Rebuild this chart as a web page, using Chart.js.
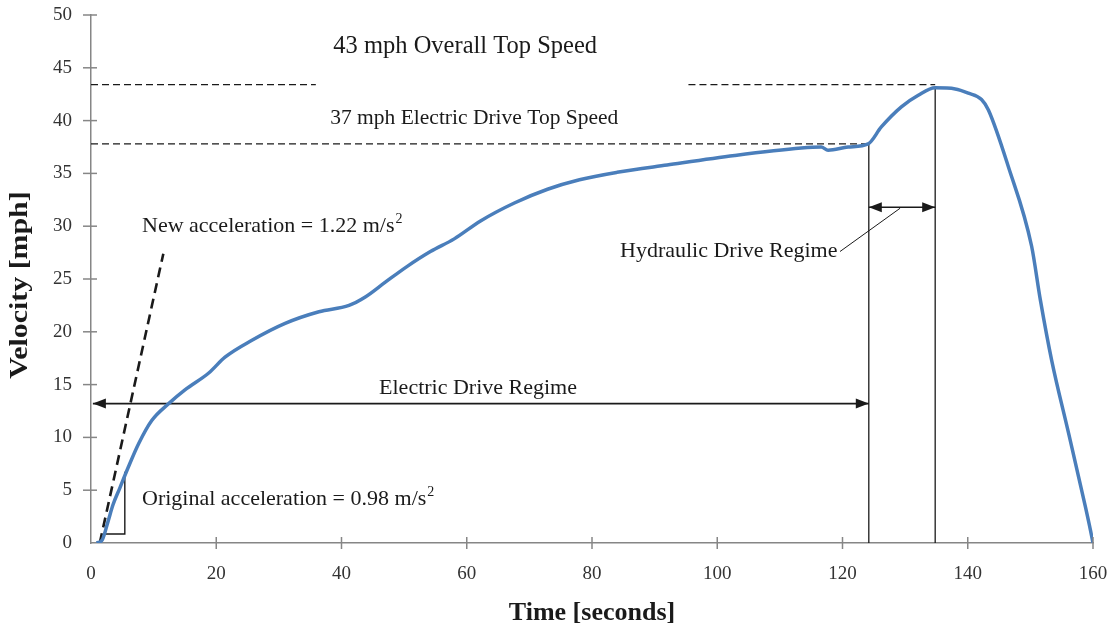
<!DOCTYPE html>
<html>
<head>
<meta charset="utf-8">
<script src="https://cdn.jsdelivr.net/npm/chart.js@4.4.1/dist/chart.umd.min.js"></script>
<style>
  html, body { margin: 0; padding: 0; background: #fff; }
  canvas { display: block; }
</style>
</head>
<body>
<canvas id="velocityChart" width="1112" height="634"></canvas>
<script>
// ---- Data ----
const timeSec = [0.9, 1.8, 2.7, 3.5, 4.6, 5.9, 7.6, 9.7, 12.4, 15.0, 18.8, 21.4, 25.7, 31.0, 36.4, 41.2, 43.8, 47.0,
  50.5, 54.2, 58.0, 62.2, 67.6, 72.9, 78.0, 84.0, 92.0, 102.8, 113.4, 116.6, 117.7, 120.9, 124.1,
  126.2, 129.4, 132.1, 134.8, 138.0, 140.1, 142.2, 143.3, 146.5, 150.2, 151.6, 153.4, 156.1, 158.8, 159.6, 160];
const velocityMph = [0, 0.3, 2.0, 3.6, 5.2, 7.1, 9.4, 11.6, 13.2, 14.5, 16.1, 17.6, 19.2, 20.8, 21.9, 22.5, 23.3, 24.7,
  26.2, 27.6, 28.8, 30.5, 32.2, 33.5, 34.4, 35.1, 35.8, 36.7, 37.4, 37.5, 37.2, 37.5, 37.8,
  39.4, 41.3, 42.4, 43.1, 43.0, 42.6, 42.0, 41.0, 35.6, 28.1, 23.0, 17.3, 10.4, 3.4, 1.2, 0];

const xTickStep = 20;
const yTickStep = 5;

// reference lines
const overallTopMph = 43.4;
const electricTopMph = 37.8;
const overallDashLeftT = [0, 35.9];
const overallDashRightT = [95.4, 134.8];
const electricDashT = [0, 124.2];
const regimeBoundT = [124.2, 134.8];
const regimeBoundTopMph = [37.8, 43.1];

// acceleration markers
const newAccelT = [1.4, 11.55];
const newAccelV = [0, 27.4];
const triangleT = [1.9, 5.4, 5.4];
const triangleV = [0.85, 0.85, 6.75];

// regime arrows + leader
const electricArrowT = [0.3, 124.2];
const electricArrowV = 13.2;
const hydraulicArrowT = [124.2, 134.8];
const hydraulicArrowV = 31.8;
const leaderT = [119.6, 129.2];
const leaderV = [27.6, 31.7];

// text annotations: [text, t, v, align, size, superscript]
const notes = [
  ["43 mph Overall Top Speed", 38.7, 47.0, "left", 24.5, ""],
  ["37 mph Electric Drive Top Speed", 38.2, 40.2, "left", 21.5, ""],
  ["New acceleration = 1.22 m/s", 8.15, 30.0, "left", 22, "2"],
  ["Original acceleration = 0.98 m/s", 8.15, 4.1, "left", 22, "2"],
  ["Electric Drive Regime", 61.8, 14.7, "center", 22, ""],
  ["Hydraulic Drive Regime", 119.2, 27.6, "right", 22, ""],
];

const SERIF = "'Liberation Serif', 'DejaVu Serif', serif";
const INK = "#1a1a1a";
const AXIS = "#868686";
const BLUE = "#4a7ebb";

const pts = (xs, ys) => xs.map((x, i) => ({ x: x, y: Array.isArray(ys) ? ys[i] : ys }));

const refLine = (data, extra) => Object.assign({
  data: data, borderColor: INK, borderWidth: 1.3, pointRadius: 0, fill: false, tension: 0, order: 2,
}, extra || {});

// ---- Annotation plugin: ticks, arrowheads, text, axis titles ----
const annot = {
  id: "annot",
  afterDraw(chart) {
    const ctx = chart.ctx, xs = chart.scales.x, ys = chart.scales.y, ca = chart.chartArea;
    ctx.save();

    // crossing tick marks
    ctx.strokeStyle = AXIS; ctx.lineWidth = 1.5;
    for (let t = xTickStep; t <= xs.max; t += xTickStep) {
      const px = xs.getPixelForValue(t);
      ctx.beginPath(); ctx.moveTo(px, ca.bottom - 6); ctx.lineTo(px, ca.bottom + 6); ctx.stroke();
    }
    for (let v = yTickStep; v <= ys.max; v += yTickStep) {
      const py = ys.getPixelForValue(v);
      ctx.beginPath(); ctx.moveTo(ca.left - 8, py); ctx.lineTo(ca.left + 6, py); ctx.stroke();
    }

    // arrowheads
    ctx.fillStyle = INK;
    const head = (tipX, tipY, dir) => {
      ctx.beginPath();
      ctx.moveTo(tipX, tipY);
      ctx.lineTo(tipX - dir * 13, tipY - 5);
      ctx.lineTo(tipX - dir * 13, tipY + 5);
      ctx.closePath(); ctx.fill();
    };
    const ey = ys.getPixelForValue(electricArrowV);
    head(xs.getPixelForValue(electricArrowT[0]), ey, -1);
    head(xs.getPixelForValue(electricArrowT[1]), ey, 1);
    const hy = ys.getPixelForValue(hydraulicArrowV);
    head(xs.getPixelForValue(hydraulicArrowT[0]), hy, -1);
    head(xs.getPixelForValue(hydraulicArrowT[1]), hy, 1);

    // annotation text
    ctx.fillStyle = INK;
    ctx.textBaseline = "middle";
    notes.forEach(([txt, t, v, align, size, sup]) => {
      ctx.font = size + "px " + SERIF;
      const w = ctx.measureText(txt).width;
      ctx.font = Math.round(size * 0.65) + "px " + SERIF;
      const sw = sup ? ctx.measureText(sup).width : 0;
      const total = w + sw;
      let x0 = xs.getPixelForValue(t);
      if (align === "center") x0 -= total / 2;
      if (align === "right") x0 -= total;
      const y0 = ys.getPixelForValue(v);
      ctx.textAlign = "left";
      ctx.font = size + "px " + SERIF;
      ctx.fillText(txt, x0, y0);
      if (sup) {
        ctx.font = Math.round(size * 0.65) + "px " + SERIF;
        ctx.fillText(sup, x0 + w + 1, y0 - size * 0.32);
      }
    });

    // axis titles
    ctx.font = "bold 26px " + SERIF;
    ctx.textAlign = "center";
    ctx.fillText("Time [seconds]", (ca.left + ca.right) / 2, 613);
    ctx.save();
    ctx.translate(20, 285);
    ctx.rotate(-Math.PI / 2);
    ctx.scale(1.15, 1);
    ctx.fillText("Velocity [mph]", 0, 0);
    ctx.restore();

    ctx.restore();
  },
};

new Chart(document.getElementById("velocityChart").getContext("2d"), {
  type: "line",
  data: {
    datasets: [
      { label: "Velocity", data: pts(timeSec, velocityMph), borderColor: BLUE, borderWidth: 3.5,
        pointRadius: 0, cubicInterpolationMode: "monotone", fill: false, order: 0 },
      refLine(pts(overallDashLeftT, overallTopMph), { borderDash: [7, 4] }),
      refLine(pts(overallDashRightT, overallTopMph), { borderDash: [7, 4] }),
      refLine(pts(electricDashT, electricTopMph), { borderDash: [7, 4] }),
      refLine(pts([regimeBoundT[0], regimeBoundT[0]], [0, regimeBoundTopMph[0]])),
      refLine(pts([regimeBoundT[1], regimeBoundT[1]], [0, regimeBoundTopMph[1]])),
      refLine(pts(newAccelT, newAccelV), { borderDash: [10, 6], borderWidth: 2.6 }),
      refLine(pts(triangleT, triangleV), { borderWidth: 1.4 }),
      refLine(pts(electricArrowT, electricArrowV), { borderWidth: 1.6 }),
      refLine(pts(hydraulicArrowT, hydraulicArrowV), { borderWidth: 1.6 }),
      refLine(pts(leaderT, leaderV), { borderWidth: 1 }),
    ],
  },
  options: {
    responsive: false,
    animation: false,
    devicePixelRatio: 1,
    layout: { padding: { top: 15, right: 19, left: 0, bottom: 0 } },
    plugins: { legend: { display: false }, tooltip: { enabled: false } },
    scales: {
      x: {
        type: "linear", min: 0, max: 160,
        grid: { display: false, drawTicks: false },
        border: { display: true, color: AXIS, width: 1.5 },
        ticks: { stepSize: xTickStep, padding: 20, color: "#333", font: { family: SERIF, size: 19 }, maxRotation: 0 },
        afterFit: (s) => { s.height = 91; s.paddingLeft = 0; s.paddingRight = 0; },
      },
      y: {
        min: 0, max: 50,
        grid: { display: false, drawTicks: false },
        border: { display: true, color: AXIS, width: 1.5 },
        ticks: { stepSize: yTickStep, padding: 19, color: "#333", font: { family: SERIF, size: 19 } },
        afterFit: (s) => { s.width = 91; s.paddingTop = 0; s.paddingBottom = 0; },
      },
    },
  },
  plugins: [annot],
});
</script>
</body>
</html>
